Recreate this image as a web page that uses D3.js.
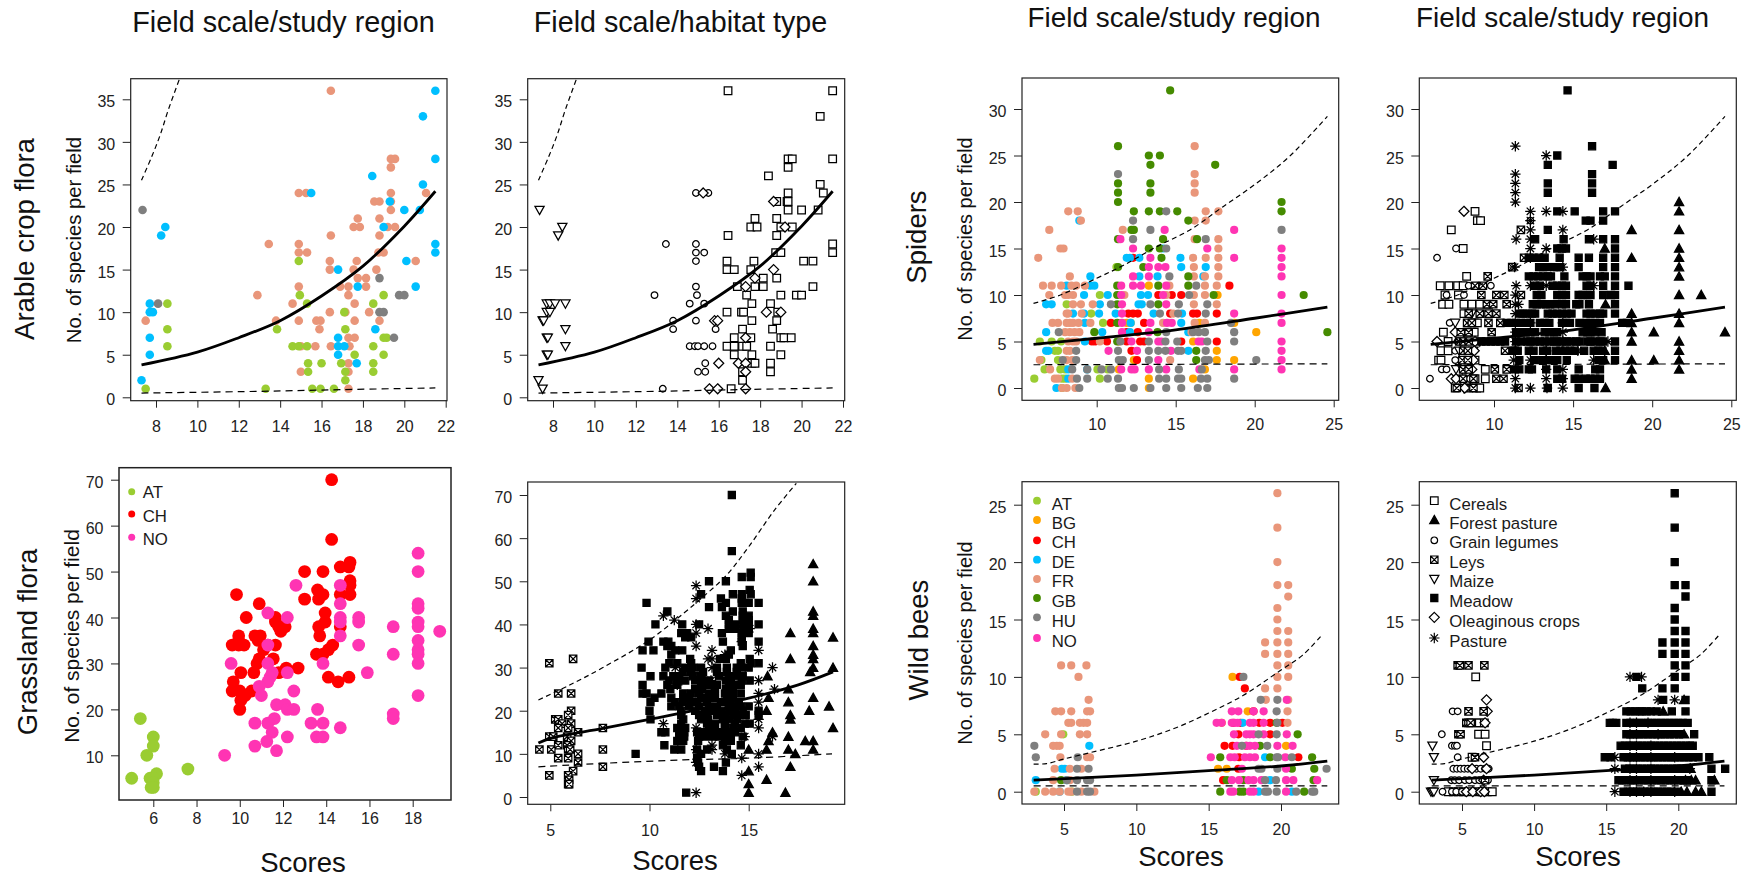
<!DOCTYPE html>
<html><head><meta charset="utf-8">
<style>html,body{margin:0;padding:0;background:#fff}svg{display:block}text{font-family:"Liberation Sans",Arial,sans-serif;fill:#1a1a1a}</style>
<script src="https://cdnjs.cloudflare.com/ajax/libs/d3/7.8.5/d3.min.js"></script></head>
<body><svg id="c" width="1749" height="877"></svg>
<script>
// All point lists are rows: [species count, score, score, ...]
const countryColors={AT:"#9ACD32",BG:"#FFA500",CH:"#FF0000",DE:"#00BFFF",FR:"#E9967A",GB:"#458B00",HU:"#7F7F7F",NO:"#FF34B3"};
const habitatNames={C:"Cereals",F:"Forest pasture",G:"Grain legumes",L:"Leys",Z:"Maize",M:"Meadow",O:"Oleaginous crops",P:"Pasture"};

// Arable crop flora by country
const arableDE=[[36,21.5],[33,20.9],[28,21.5],[26,18.45],[25,20.9],[24,15.5],[23,19.3],[22,20,20.75],[20,19,8.45],[19,8.25],[18,21.5],[17,21.5],[16,20.1],[15,16.8],[13,17.75,20.55],[11,7.7],[10,7.7,7.85],[8,18.6],[7,16.8,7.7],[6,16.8,17.1],[5,16.8,7.7],[4,17.7],[2,7.3]];
const arableFR=[[36,16.45],[28,19.35,19.55],[27,19.35],[24,14.9,15.25,19.35,21.05],[23,18.55,18.8,19.35],[22,19.35],[21,17.75,18.8],[20,17.55,17.85,19.2,19.55],[19,16.45,18.8],[18,13.45,14.9],[17,14.9,15.3,18.75,19],[16,16.4,17.7,20.55],[15,16.4,17.55,18.65],[14,17.75,18.15],[13,14.9,16.9,17.3,18.15],[12,12.9,17.3],[11,14.6,17.6],[10,16.4,17.15,18.3],[9,7.5,13.8,14.9,15.75,15.95,17.6,18.8],[8,15.9],[7,17.3,17.6],[6,15,15.7,16.45,17.35],[4,17.3],[3,15,17.3],[1,17.3]];
const arableAT=[[16,14.9],[12,14.95,19],[11,8.55,15.3,18.5],[10,17.1],[8,8.55,13.85,17.15],[7,19,19.15],[6,8.55,14.6,14.9,15.3,18.5],[5,17.6,19],[4,15.35,16,16.95,18.5],[3,15.35,17.15,18.5],[2,17.15],[1,7.5,13.3,15.55,15.95,16.6]];
const arableHU=[[22,7.35],[14,18.8],[12,19.75,20],[11,8.1],[10,18.8,19],[7,19.5]];
// Arable crop flora by habitat
const arableCereals=[[36,16.45,21.5],[33,20.9],[28,19.35,19.55,21.5],[27,19.35],[26,18.4],[25,20.9],[24,19.35,21.05],[23,18.8,19.3,19.35],[22,19.35,20,20.8],[21,17.75,18.8],[20,17.55,17.85,19,19.55],[19,16.45,18.8],[18,21.5],[17,18.75,19,21.5],[16,16.4,17.7,20.1,20.55],[15,16.4,16.75,17.55],[14,18.15,18.8],[13,16.9,17.75,18.15,20.55],[12,17.35,19,19.75,20],[11,17.6,18.5],[10,16.4,17.1,17.2,18.85],[9,17.6,18.8],[8,17.15,18.6],[7,16.75,17.55,19,19.15,19.5],[6,16.4,16.75,17.15,17.35,18.5],[5,16.75,17.6,19],[4,17.6,17.75,18.5],[3,17.15,18.5],[2,17.15],[1,16.6]];
const arableLegumes=[[24,14.9,15.5],[18,13.45,14.9],[17,14.9,15.3],[16,14.9],[13,14.9],[12,12.9,14.95],[11,14.6,15.3],[10,19],[9,13.8,14.9],[8,13.8,15.85],[6,14.6,14.85,15,15.3,15.7],[4,15.35],[3,15,15.35],[1,13.3]];
const arableMaize=[[22,7.35],[20,8.45],[19,8.25],[11,7.7,7.85,8.1,8.6],[10,7.7,7.85],[9,7.5,7.55],[8,8.6],[7,7.7,7.75],[6,8.6],[5,7.7,7.75],[2,7.3],[1,7.5]];
const arableOleaginous=[[24,15.25],[23,18.65],[20,19.2],[15,18.65],[14,17.75],[13,17.3],[10,18.3,19],[9,15.8,15.95],[7,17.3],[4,16,16.95,17.3],[3,17.3],[1,15.55,15.95,17.3]];
const arableMean=[[7.3,3.8],[10,5.3],[12,7],[14,9],[16,11.9],[18,15.4],[20,20.1],[21.5,24.2]];
const arableUpper=[[7.3,25.5],[7.8,28.3],[8.2,30.8],[8.6,33.8],[9.15,37.5]];
const arableLower=[[7.3,0.5],[13,0.7],[17,0.9],[21.5,1.1]];

// Grassland flora by country
const grassAT=[[18,5.4],[14,6],[12,6],[10,5.7],[7,7.6],[6,6.15],[5,5,5.85,6],[4,6],[3,5.9,6]];
const grassCH=[[70,14.25],[57,14.25],[52,15.1],[51,14.65,15.05],[50,13,13.85],[48,15.1],[47,15.1],[46,13.6],[45,9.85,13.85,14.65,15.1],[44,13,13.65],[43,10.9],[41,13.95],[40,10.3,11.65],[39,11.65,13.95],[38,11.8,12.1,13.65,14.65],[37,11.9],[36,9.95,10.7,10.95,13.7],[35,9.95,10.85],[34,9.65,9.95,10.2,11.3,11.65,14.3],[33,11.1,14.1],[32,13.55,13.85],[31,10.9,11.55],[30,10.8],[29,12.15,12.7],[28,10.05,10.65,11.8],[27,14.1,15.05],[26,9.7,14.55],[24,9.65,10,10.55],[23,10.25],[22,10.05],[20,10]];
const grassNO=[[54,18.25],[50,18.25],[47,12.6,14.65],[43,14.65,18.25],[42,18.25],[41,11.3],[40,12.2,14.65,15.5],[39,14.65,15.5,18.25],[38,17.1,18.25],[37,19.25],[36,14.65],[35,18.25],[34,11.3,15.5],[33,18.25],[32,17.1,18.25],[30,9.6,11.3,13.85,18.25],[28,11.5,12.2,15.9],[27,11.4],[26,11.3],[25,10.9],[24,12.5],[23,11,18.25],[21,11.7,12.1],[20,12.2,12.5,13.6],[19,17.1],[18,11.6,17.1],[17,10.7,11.3,13.3,13.85],[16,14.65],[15,11.5],[14,12.2,13.55,13.85],[13,11.25],[12,10.7],[11,11.7],[10,9.3]];
// Grassland flora by habitat
const grassLeys=[[32,6.15],[31,4.95],[24,5.4,6.05],[20,6.05],[19,5.9],[18,5.25,5.4],[17,5.6,6.05],[16,5.4,5.9,7.65],[15,6.4],[14,4.95,5.15,5.85],[13,6.05],[12,5.4,5.85],[11,4.45,5.05,5.9,6,7.65],[10,6.4],[9,5.4,5.9],[8,6.4],[7,7.65],[6,6.15],[5,4.95,5.9],[4,5.95],[3,5.9,5.95]];
const grassMeadow=[[70,14.15],[57,14.15],[52,15.1],[51,14.65,15.1],[50,13,13.85],[48,15.05],[47,12.6,14.2,14.65,15.1],[46,13.6,14.65],[45,9.85,13.85,14.65,14.8,15,15.5],[44,13,13.65],[43,10.9,14.2,14.7],[42,13.85,14.7,15],[41,14,14.7,15],[40,10.3,11.65,12.5,14,14.3,14.7,15,15.5],[39,14,14.3,14.7,15],[38,11.6,11.9,13.65,14.65,15],[37,11.8,12.1,14.65],[36,9.95,10.7,10.95,13.7,14.65,15.5],[35,10.9,11.1,14.7],[34,9.65,10.2,11.3,11.65,14.1],[33,11.1,14],[32,12.05,13.55,13.85,15.05],[31,11,11.4,12.1,14.6,15.1,15.5],[30,9.6,10.8,11.8,12.2,12.6,13.4,13.9,14.4,14.65,15],[29,11.7,12.1,12.7,13.4,13.9,14.4],[28,10.05,10.7,11.2,11.5,12.2,12.6,13.5,14,14.4,14.7],[27,11,11.4,11.8,12.3,12.65,13,13.85,14.1,14.65,15.05],[26,9.65,10.9,11.4,12.6,13,13.4,14,14.3,14.6],[25,11.05,12.3,12.65,13.3,13.85,14.2],[24,9.65,9.85,10.6,11.7,12.1,12.5,13,13.3,13.8,14.2,14.6],[23,10.25,11.1,11.7,12,12.6,12.9,13.3,13.9,14.2],[22,10.05,11.3,11.7,12.1,12.4,12.9,13.6,14,14.5],[21,11.1,11.5,12,12.5,13,13.4,14,14.3,14.6,15],[20,10,11.6,12.3,12.8,13.2,13.6,14,14.3,14.7,15.5],[19,11.6,12.5,12.9,13.4,13.8,14.2,14.55,14.85,15.5],[18,10.05,11.7,12.6,12.95,13.7,14,14.4],[17,11.6,12.9,13.3,13.8,14.3,14.8,15.05],[16,11.4,11.8,13,13.3,13.8,14.2,14.6],[15,10.6,10.8,11.5,11.75,12.4,12.7,13,13.4,13.7,14,14.3],[14,11.5,11.75,12.5,12.8,13.2,13.5,13.8,14.1,14.7],[13,11.4,11.7,12.45,13.8,14.1],[12,10.75,13.7,14.6],[11,11.25,11.6,12.4,12.9,13.9],[10,9.3,12.6,14.15],[9,12.4],[8,12.45,13.85],[7,12.5,13.25],[6,12.6,13.7],[1,11.85]];
const grassPasture=[[49,12.35],[46,12.35],[42,10.7],[41,11.25],[40,12.35],[39,12.95,15.05],[38,12.35],[36,14.65],[35,12.35],[34,13.15,15.5],[33,13.8],[32,12.95,13.15],[30,11.3,13.15,16.2],[27,13.1,15.5],[26,11.4],[25,16.3],[24,15.5],[22,15.5],[18,15.5],[17,10.7],[16,12.35,15.5],[14,14.8,16.2],[12,13.15],[11,12.35,13.15],[10,13.8,15.5],[9,14.65],[8,12.35],[7,15.5],[5,14.65],[1,12.35]];
const grassForest=[[54,18.25],[50,18.25],[43,18.25],[42,18.25],[39,18.25],[38,17.1,18.25],[37,19.25],[35,18.25],[33,18.25],[32,17.1,18.25],[30,18.25,19.25],[29,18.1],[28,15.95],[25,17],[23,16,18.25],[22,17],[21,19.05],[20,15.9,18.05],[19,17.1],[18,17.1],[16,19.25],[15,16.2],[14,17],[13,16,17.85,18.25],[11,15,15.9,17,18.25],[10,17.35],[7,17.1],[6,15],[4,15.9],[3,15],[1,15,16.85]];
const grassMean=[[4.4,12.5],[5,13.6],[7.65,15.9],[10,18],[12.5,20.3],[15,22.9],[17.5,26],[19.25,29]];
const grassUpper=[[4.4,22.5],[6,26],[7.65,30],[10,36.4],[11.7,42.5],[12.7,46.4],[13.9,51.5],[15,58],[16.3,66.5],[17.4,72.7]];
const grassLower=[[4.4,7],[7.65,7.8],[11.7,8.6],[15,9],[19.2,10]];

// Spiders by country
const spidersAT=[[13,11.25],[10,10.2],[9,8.1],[8,9.65],[7,10.4],[5,6.4,7.15,7.75],[4,7.35,7.55],[3,6.5,7.55],[2,6.7,7.7,8,10.05,10.7],[1,6.05,7.8,8,10.2],[0,7.8]];
const spidersBG=[[11,13.3],[10,17.65],[7,11.9,12.15,16.5,18.7],[6,20.1],[5,11.4,16.1],[4,17.6],[3,12.35,17.6,18.7],[2,11.4,16.85],[1,13.3,16.1],[0,13.3]];
const spidersCH=[[14,12.3],[11,18.4],[10,13.9,14.75,15.35],[8,12,12.3,12.6,14.65,16.1,16.35,17.6],[7,10.9,13],[6,11.9,12.6],[5,9.7,9.9,10.65,11.9,12.75,13,15.35,17.6],[4,12.2],[3,12.55]];
const spidersDE=[[18,8.9],[15,14.2],[14,11.9,12.1,12.7,15.3],[13,15.35,16.9],[12,9.6,12.7,13.85,16.75],[11,8.1,9.6,9.85],[10,9.2,10.7,12.8,13.25],[9,6.8,7.15,10.2,12.65,12.85],[8,8.5,9.2,10.15,11.2,13.6,15.4],[7,9.25,12.15,15.35],[6,6.8,10.35,12.1,15.8],[5,9.25],[4,6.8,6.95,15.8],[2,8.2,9.4],[1,8.2],[0,7.45]];
const spidersFR=[[26,16.2],[23,16.2],[22,16.2],[21,16.2],[19,8.2,8.8,16.9,17.7],[18,9,16.2,16.9],[17,7,11.65],[16,16.2,17.7],[15,7.7,7.9,17.7],[14,6.3,16.1,16.9,17.7],[13,16.15,17.7],[12,8.3,16.15,16.85,17.7],[11,6.6,7.15,7.75,8.4,8.7,9.25,14.6,16.85,17.6],[10,7,8,8.2,8.5,11.75,14.4,16.15,16.85],[9,8.5,9,9.75,16.15,17.6],[8,8.1,8.2,9.05,14.85],[7,7.2,7.55,8.1,8.3,8.5,8.85,9.6,14.2,16.2,16.85],[6,8,8.3,8.6,8.9,16],[5,8.2,8.5,8.7,10.2],[4,8.1,8.3],[3,6.4,8.1,8.45,14.65],[2,7.05],[1,7.35,7.55,8.45],[0,7.8,8.1,8.65]];
const spidersGB=[[32,14.65],[26,11.35],[25,13.3,14],[24,13.4,17.5],[22,11.35,13.4],[21,11.35,13.4],[20,11.35,21.7],[19,12.35,13.3,14,15.1,21.7],[18,15.8],[17,12.2,12.35],[16,11.35,14.2,16.35],[15,13.3,14],[14,14.1],[13,11.35,12.95],[12,15.8],[11,11.3,13.9,15.8],[10,11.3,17.4,23.1],[9,11.3,13.9],[7,11.3],[6,9.85,13.85,24.6],[5,11.3],[4,16.3],[3,16.3]];
const spidersHU=[[23,11.35],[19,14.4],[18,12.3],[17,13.4,21.7],[16,12.3,16.9],[15,14.4],[12,14.6],[11,16.3],[10,15.85],[9,10.9,13.4,15.2,17],[8,14,15.15,16.9],[7,18.5],[6,7.6,14.4,16.1,16.45,16.85,18.7],[5,11.5,13.3,14.35,15.1,17,18.7],[4,8.7,11.35,13.3,13.9,14.35,15.15,15.35,16.9],[3,7.85,8.7,11.4,11.65,13.3,16.85,17.1,20.1],[2,8.45,9.4,10.3,10.9,13.95,15.2,16.65],[1,8.75,9.4,10.7,11.35,13.95,14.4,15.15,15.35,16.6,17,18.7],[0,8.9,11.4,11.6,12.35,13.4,14.4,15.35,16.4,17]];
const spidersNO=[[17,14.3,18.7],[16,11.5],[15,12.3,17,21.7],[14,13.4,18.7,21.7],[13,13.3,13.9,14.35,21.7],[12,12.3,13.3,21.7],[11,11.55,12.3,12.8,14.4],[10,11.55,14.2,21.7],[9,11.6,14.4],[8,11.6,18.7,21.7],[7,11.6,13.4,14.45,14.75,21.7],[6,11.6,13.3],[5,12.2,13.9,14.1,16.45,16.65,21.7],[4,10.75,12.55,14.7,21.7],[3,13.9,21.7],[2,11.55,12.2,12.4,13.3,14.4,16.5,18.7,21.7]];
// Spiders by habitat
const spidersCereals=[[19,8.8],[18,8.95,9.15],[17,7.3],[15,8.05],[12,8.27],[11,6.6,7.15,7.7,8.05],[10,6.9,7.75],[9,6.75,7.15,8.1,8.6,9.1,9.65],[8,8.1],[7,8.75,8.95],[6,6.8,8.3,8.75],[5,7.1],[4,6.65,7.1],[3,6.5,6.65,8.8],[2,9.45],[1,8.8,9.45],[0,7.55,8.4,8.9,9.1]];
const spidersLegumes=[[18,12.3],[15,7.6],[14,6.4],[11,8.4,9.8],[10,7,8.1],[7,7.2],[6,7.9],[5,7.7,8.2],[4,7.55,8,8.4],[3,7.55,8,8.3],[2,6.7,7,8.1],[1,5.95,8.2],[0,8.3]];
const spidersMaize=[[8,8.6],[7,7.55],[6,8.1],[5,7.9,9.1],[4,7.8,8.7],[2,7.6,8],[1,7.9],[0,8.1]];
const spidersOleaginous=[[19,8.1],[6,7.55],[5,6.4,8.8],[4,8.75],[3,8.7],[2,8.6],[1,7.3,7.6,8.5],[0,8.15]];
const spidersLeys=[[17,11.7],[14,11.9],[13,11.15],[12,9.6],[11,8.8,9.3],[10,9.2,10.15,10.65,11.7],[9,9.55,9.95,10.8],[8,8.4,9.1,9.65,10.15],[7,8.3,8.6,9.65,10.4],[6,7.9,8.4,9.85],[5,7.8,8.05,8.4],[4,8.05,8.35,10.7,11.3],[3,8,8.35],[2,8.05,8.4,10.05,10.8],[1,8.05,8.7,10.15,10.6],[0,7.65,8.7,11.55]];
const spidersMeadow=[[32,14.65],[26,16.2],[25,14],[24,13.4,17.5],[23,16.2],[22,13.4,16.2],[21,13.4,16.2],[19,14,15.1,16.9,17.65],[18,15.8,16.1,16.9],[17,13.4],[16,12.6,14.4,16,16.9,17.65],[15,14,14.3,14.55,17.65],[14,12.2,12.5,12.85,13.2,14.15,15.35,16,16.9,17.65],[13,12.85,13.1,13.35,13.8,14,14.2,15.35,16.9,17.65],[12,12.2,12.5,12.8,13.1,13.4,13.6,14.45,15.6,15.85,16.1,16.7,17,17.65],[11,12.6,12.9,13.7,14,14.3,14.55,15.85,16.1,16.9,17.65,18.5],[10,12.7,13,14,14.3,14.55,15.35,15.6,15.9,16.1,16.9,17.4,17.65],[9,12.45,12.7,13,13.3,13.55,13.85,14.3,14.55,15.2,15.4,16,17.65],[8,11.6,11.85,12.1,12.4,12.6,13.4,13.7,14,14.3,14.6,14.9,15.85,16.1,16.4,16.7,16.9,17.65],[7,10.8,11.1,11.4,11.7,12,12.3,12.9,13.2,13.5,14.3,14.55,14.8,15.4,15.85,16.1,16.4,16.7,18.1,18.4],[6,11.4,11.7,12,12.3,12.6,13.2,13.5,13.8,14,15.6,15.9,16.1,16.4,16.8],[5,9.2,9.5,9.8,10.1,10.4,10.7,11.4,11.7,12.1,12.3,12.6,12.9,13.2,13.5,13.8,14,14.3,14.6,14.85,15.2,15.4,15.9,16.1,16.4,16.7,16.9,17.65],[4,11.2,11.5,12.2,12.5,13.1,13.35,13.9,14.2,14.5,14.8,15.1,15.7,16.3,16.6,16.85,17.65],[3,11.6,12.6,13.1,13.4,13.7,14,14.6,16.6,16.9,17.65],[2,11.3,11.6,12.2,12.4,13.3,14,15.35,16.4,16.7],[1,14,14.3,15.1,15.35,15.8,16.1,16.4,16.7],[0,13.4,15.35,16.35]];
const spidersForest=[[20,21.7],[19,21.7],[17,18.7,21.7],[15,17,21.7],[14,18.7,21.7],[13,21.7],[12,21.7],[10,21.7,23.1],[9,17.05],[8,18.7,21.7],[7,18.7,21.7],[6,18.7,20.1,24.6],[5,18.7,21.7],[4,17,21.7],[3,17,18.7,20.1,21.7],[2,18.7,21.7],[1,18.7],[0,17.05]];
const spidersPasture=[[26,11.35],[25,13.3],[23,11.35],[22,11.35],[21,11.35],[20,11.35],[19,12.3,13.3,14.35],[18,12.3],[17,12.3,14.35],[16,11.4,12.3,16.3],[15,12.3,13.3],[14,12.3],[13,11.3,14.35],[11,11.4,12.3,13.3,16.3],[10,11.35],[9,11.35,11.55],[8,11.35],[7,12.3,14.35],[6,11.35,14.35],[5,11.35,14.35,17.2],[4,11.35,13.3,15.3],[3,11.25,12.3,13.3,16.3],[2,11.35,13.3,14.35],[1,11.35,13.3,14.35],[0,11.35,12.3,13.35,14.35]];
const spidersMean=[[6,4.7],[10,5.35],[15,6.25],[20,7.5],[24.6,8.7]];
const spidersUpper=[[6,9.1],[7.7,10],[10,11.8],[11.7,13.2],[13.8,15.2],[15.9,17],[18,19.5],[20.1,22],[22.2,24.9],[24.6,29.2]];
const spidersLower=[[6,2.5],[15,2.55],[24.6,2.6]];

// Wild bees by country
const beesAT=[[5,4.95],[0,3.05,5.55]];
const beesBG=[[10,16.65],[7,17.7],[6,15.9],[4,20.35],[2,15.65,16.25]];
const beesCH=[[10,17.15],[9,17.5],[7,18.1],[6,16.7,17.2,18.5,19.25,20.1],[5,17.05,19.25],[4,16.1,16.65,17.6],[3,17.1,21.2],[2,17.05],[1,16]];
const beesDE=[[6,17.35],[4,6.75],[3,18.9],[2,4.85,5.05],[1,3.05,5.2,19.25],[0,4.7,18.45,20.75]];
const beesFR=[[26,19.75],[23,19.75],[20,19.75],[18,19.75,20.5],[17,20.5],[16,19.75],[15,19.75],[14,19.75,20.5],[13,18.9,19.75,20.5],[12,18.9,19.75,20.5],[11,4.8,5.5,6.55,19.75,20.5],[10,6,19.75,20.5],[9,18.9,19.75],[8,6.7,18.95,20.5],[7,4.4,4.8,5.5,6.6,6.8,20.45],[6,5.3,5.5,6.1,6.35,6.6,20.45],[5,3.7,4.8,6.1,6.6],[4,4.25,4.5,4.7],[3,4.75,6.6,6.8],[2,4.35,5.4,6.2],[1,4.25,5.4],[0,2.95,3.7,4.25,4.7,5.3,5.5,6.2,7.1]];
const beesGB=[[6,19.7],[5,21.15],[4,18.55],[3,15.8,19.25,22.15],[2,20.75,22.3],[1,4.8,16.25,17.4,22.25],[0,15.8,17.15,17.4,21.6]];
const beesNO=[[8,20.4],[7,16.6,17.05,18.1,18.8],[6,15.55,15.9,16.6,16.8,17,17.85,18.1,18.8],[5,16.75,17.6,17.85,18.1,18.8,20.4],[4,16.95,17.6,17.85,18.2,19.75,20.8],[3,15.15,16.5,16.8,17.5,17.85,18.2,20.3],[2,17.3,20.35],[1,16.6,17.1,17.75,18.1,18.65,20.35,20.85,22.5],[0,16.5,16.7,17.85,18.1,20.35]];
const beesHU=[[10,17.4],[8,18.6,19.75],[7,19.7],[6,19.75],[5,18.45,19.7],[4,2.95,17.3,19.05],[3,3.05,5.95,19.7,19.8,20.75],[2,5.9,6.7,18.45,18.65,19.75,23.15],[1,5.2,5.9,6.6,6.8,18.9,19.65],[0,5.9,6.6,6.8,18.9,19.1,19.7,21.05,22.15,22.3]];
// Wild bees by habitat
const beesCereals=[[10,5.95],[6,5.95,6.2,6.55],[5,6.15,6.6],[4,6.7],[3,5.7],[0,4.05,4.4,4.75,5.1,5.45,6,6.4,6.75,7.1]];
const beesLegumes=[[7,4.35,4.7],[5,3.6],[4,4.3,4.5,4.65],[3,4.7,6.5],[2,4.4,4.65,4.9,5.15,5.4,5.65,6,6.3,6.6,6.85],[1,4.25,4.5,4.8,5.2,5.5,5.9,6.2,6.5,6.8],[0,3.65,4.3,4.6,5,5.3,5.9,6.3,6.6]];
const beesLeys=[[11,4.7,4.85,5.45,6.55],[7,5.45,6.5],[6,5.3,5.45,5.6],[5,4.75,4.9],[3,5.9],[1,6.6]];
const beesMaize=[[4,2.95],[3,3.05],[1,3.05],[0,2.85,2.95,3.05]];
const beesOleaginous=[[8,6.7],[7,6.75],[6,6.6],[3,6.5],[2,5.7,6.7],[1,6.5],[0,5.3,5.75,6.3,6.55]];
const beesMeadow=[[26,19.75],[23,19.75],[20,19.75],[18,19.75,20.5],[17,20.5],[16,19.75],[15,19.75],[14,19.75,20.5],[13,18.9,19.75,20.5],[12,18.9,19.75,20.5],[11,19.75,20.5],[10,17.1,19.75,20.5],[9,17.5,18.9,19.75],[8,18.95,20.5],[7,16.4,16.7,17,17.3,17.5,17.8,18.1,18.5,19.55,20.5],[6,15.25,15.45,15.7,16.4,16.7,17,17.3,17.6,17.9,18.2,18.5,18.8,19.1,19.4,19.7,20,20.3,20.65],[5,16.4,16.7,17,17.3,17.6,17.9,18.2,18.5,18.8,19.1,19.4,19.7,20.05,21.1],[4,16,16.3,16.6,16.9,17.2,17.5,17.8,18.1,18.4,18.7,19,19.3,19.6,19.9,20.2,20.5,20.8,21],[3,14.9,15.3,16.2,16.5,16.8,17.1,17.4,17.7,18,18.3,18.6,18.9,19.2,19.5,19.8,20.1,20.4,20.7,21,21.4,22.15],[2,16.3,16.6,16.9,17.2,17.5,17.8,18.1,18.4,18.7,19,19.3,19.6,19.9,20.2,20.6,22.3,23.25],[1,15.85,16.1,16.4,16.7,17,17.3,17.6,17.9,18.2,18.5,18.8,19.1,19.4,19.7,20,20.3,20.6,22.3],[0,16.2,16.5,16.8,17.1,17.4,17.7,18,18.3,18.6,18.9,19.2,19.5,19.9,22.3]];
const beesForest=[[8,20.4],[7,18.95],[5,20.4],[2,20.85],[1,20.5,20.9,21.2,22.5],[0,20.2,20.6,21.2,21.6]];
const beesPasture=[[10,16.65,17.45],[8,18.6,19.75],[6,16.65,17.1,17.9],[5,16.65,17.1,18.6],[4,16.65,17.1,18.1],[3,15.6,16.65,17.1,18.1,19.75],[2,15.6,16.65,17.1,18.1,20.8],[1,16.65,17.1,18.1,19.75],[0,15.6,16.65,17.1,17.6,18.1,19.75]];
const beesMean=[[2.9,1],[10,1.45],[15,1.83],[20,2.24],[23.2,2.67]];
const beesUpper=[[2.9,2.4],[3.8,2.45],[5,2.85],[6.8,3.4],[10,4.4],[12.7,5.55],[15,6.85],[17.4,8.4],[20,10.6],[21.5,11.9],[22.9,13.75]];
const beesLower=[[2.9,0.5],[23.2,0.5]];

// Legends and axes
const grassLegend=["AT","CH","NO"];
const beesLegend=["AT","BG","CH","DE","FR","GB","HU","NO"];
const habitatLegend=["C","F","G","L","Z","M","O","P"];
const ticks14=[8,10,12,14,16,18,20,22], ticksGrassX=[6,8,10,12,14,16,18], ticks5=[5,10,15], ticksSp=[10,15,20,25], ticksBee=[5,10,15,20];
const yArable=[0,5,10,15,20,25,30,35], yGrassL=[10,20,30,40,50,60,70], yGrassR=[0,10,20,30,40,50,60,70], ySp=[0,5,10,15,20,25,30], yBee=[0,5,10,15,20,25];

const svg=d3.select("#c");
const defs=svg.append("defs");
let clipId=0;

// marker shapes as d3 custom symbol types
const sq=h=>({draw(c){c.rect(-h,-h,2*h,2*h)}});
const shapes={
 C:{type:sq(3.8),fill:"#fff"},
 M:{type:sq(3.55),fill:"#000"},
 L:{type:{draw(c){const h=3.7;c.rect(-h,-h,2*h,2*h);c.moveTo(-h,-h);c.lineTo(h,h);c.moveTo(h,-h);c.lineTo(-h,h)}},fill:"#fff"},
 F:{type:{draw(c){const h=4.6;c.moveTo(0,-h);c.lineTo(h,h*0.8);c.lineTo(-h,h*0.8);c.closePath()}},fill:"#000"},
 Z:{type:{draw(c){const h=4.6;c.moveTo(0,h);c.lineTo(h,-h*0.8);c.lineTo(-h,-h*0.8);c.closePath()}},fill:"#fff"},
 G:{type:{draw(c){c.moveTo(3.3,0);c.arc(0,0,3.3,0,2*Math.PI)}},fill:"#fff"},
 O:{type:{draw(c){const h=5;c.moveTo(0,-h);c.lineTo(h,0);c.lineTo(0,h);c.lineTo(-h,0);c.closePath()}},fill:"#fff"},
 P:{type:{draw(c){const h=5.2,d=3.7;c.moveTo(-h,0);c.lineTo(h,0);c.moveTo(0,-h);c.lineTo(0,h);c.moveTo(-d,-d);c.lineTo(d,d);c.moveTo(d,-d);c.lineTo(-d,d)}},fill:"none"}
};
const symbolPath=k=>d3.symbol().type(shapes[k].type)();

const unroll=rows=>rows.flatMap(r=>r.slice(1).map(x=>({x,y:r[0]})));

function panel(o){
 const x=d3.scaleLinear().domain(o.xd).range(o.xr), y=d3.scaleLinear().domain(o.yd).range(o.yr);
 const [L,T,R,B]=o.box;
 const g=svg.append("g");
 const id="clip"+(clipId++);
 defs.append("clipPath").attr("id",id).append("rect").attr("x",L).attr("y",T).attr("width",R-L).attr("height",B-T);
 const plot=g.append("g");
 (o.groups||[]).forEach(s=>{
  const pts=unroll(s.rows);
  if(s.color){
   plot.append("g").attr("fill",s.color).selectAll("circle").data(pts).join("circle")
    .attr("cx",d=>x(d.x)).attr("cy",d=>y(d.y)).attr("r",o.r);
  } else {
   const sh=shapes[s.shape];
   plot.append("g").attr("fill",sh.fill).attr("stroke","#000").attr("stroke-width",1.25)
    .selectAll("path").data(pts).join("path").attr("d",symbolPath(s.shape))
    .attr("transform",d=>`translate(${x(d.x)},${y(d.y)})`);
  }
 });
 const line=d3.line().x(d=>x(d[0])).y(d=>y(d[1])).curve(d3.curveCatmullRom.alpha(0.5));
 const lg=g.append("g").attr("clip-path",`url(#${id})`).attr("fill","none").attr("stroke","#000");
 if(o.upper){
  lg.append("path").attr("d",line(o.upper)).attr("stroke-width",1.2).attr("stroke-dasharray","5,3.5");
  lg.append("path").attr("d",line(o.lower)).attr("stroke-width",1.2).attr("stroke-dasharray","7,5");
  lg.append("path").attr("d",line(o.mean)).attr("stroke-width",2.8);
 }
 g.append("rect").attr("x",L).attr("y",T).attr("width",R-L).attr("height",B-T).attr("fill","none").attr("stroke","#222").attr("stroke-width",o.frame||1.2);
 const ax=g.append("g").attr("transform",`translate(0,${B})`).call(d3.axisBottom(x).tickValues(o.xt).tickSize(7).tickFormat(d3.format("d")));
 ax.select(".domain").remove();
 ax.selectAll("text").attr("y",o.xl).attr("dy",0).style("font-size","16px").style("fill","#222");
 ax.selectAll("line").attr("stroke","#222").attr("stroke-width",1);
 const ay=g.append("g").attr("transform",`translate(${L},0)`).call(d3.axisLeft(y).tickValues(o.yt).tickSize(8).tickFormat(d3.format("d")));
 ay.select(".domain").remove();
 ay.selectAll("text").attr("x",-15.5).attr("dy","0.47em").style("font-size","16px").style("fill","#222");
 ay.selectAll("line").attr("stroke","#222").attr("stroke-width",1);
 if(o.legend){
  const lsel=g.append("g");
  o.legend.forEach((k,i)=>{
   if(countryColors[k]) lsel.append("circle").attr("cx",o.lx).attr("cy",o.ly[i]).attr("r",o.lr||3.9).attr("fill",countryColors[k]);
   else{const sh=shapes[k];lsel.append("path").attr("d",symbolPath(k)).attr("transform",`translate(${o.lx},${o.ly[i]})`).attr("fill",sh.fill).attr("stroke","#000").attr("stroke-width",1.2)}
   lsel.append("text").attr("x",o.ltx).attr("y",o.lb[i]).style("font-size","16.8px").text(habitatNames[k]||k);
  });
 }
}
function txt(x,y,s,size,rot){
 const t=svg.append("text").attr("text-anchor","middle").style("font-size",size+"px").style("fill","#111").text(s);
 if(rot) t.attr("transform",`translate(${x},${y}) rotate(-90)`); else t.attr("x",x).attr("y",y);
}
const byCountry=(o)=>Object.entries(o).map(([k,rows])=>({color:countryColors[k],rows}));
const byHabitat=(o)=>Object.entries(o).map(([k,rows])=>({shape:k,rows}));

const xA=[8,22], yA=[0,35];
panel({box:[130.7,78.7,447,400.7],xd:xA,xr:[156,445.7],yd:yA,yr:[397.3,99.3],xt:ticks14,yt:yArable,xl:31,r:4.3,
 groups:byCountry({FR:arableFR,DE:arableDE,AT:arableAT,HU:arableHU}),mean:arableMean,upper:arableUpper,lower:arableLower});
panel({box:[527.7,78.7,844.7,400.7],xd:xA,xr:[553,843],yd:yA,yr:[397.3,99.3],xt:ticks14,yt:yArable,xl:31,
 groups:byHabitat({C:arableCereals,G:arableLegumes,Z:arableMaize,O:arableOleaginous}),mean:arableMean,upper:arableUpper,lower:arableLower});
panel({box:[119,467.7,451,800],xd:[6,18],xr:[153.3,412.7],yd:[10,70],yr:[755.3,479.7],xt:ticksGrassX,yt:yGrassL,xl:24,r:6.4,frame:1.5,
 groups:byCountry({AT:grassAT,CH:grassCH,NO:grassNO}),legend:grassLegend,lx:131.7,ly:[491.7,514,537.3],ltx:142.7,lb:[498.3,521.7,545],lr:3.5});
panel({box:[527.7,482,844.7,804.3],xd:[5,15],xr:[550.3,748.7],yd:[0,70],yr:[797,495],xt:ticks5,yt:yGrassR,xl:31.7,
 groups:byHabitat({L:grassLeys,M:grassMeadow,F:grassForest,P:grassPasture}),mean:grassMean,upper:grassUpper,lower:grassLower});
panel({box:[1022,78,1338.7,400.3],xd:[10,25],xr:[1096.7,1333.7],yd:[0,30],yr:[388,109],xt:ticksSp,yt:ySp,xl:30,r:4.1,
 groups:byCountry({AT:spidersAT,BG:spidersBG,CH:spidersCH,DE:spidersDE,FR:spidersFR,GB:spidersGB,NO:spidersNO,HU:spidersHU}),mean:spidersMean,upper:spidersUpper,lower:spidersLower});
panel({box:[1419.3,78,1736.3,400.3],xd:[10,25],xr:[1494,1731.3],yd:[0,30],yr:[388,109],xt:ticksSp,yt:ySp,xl:30,
 groups:byHabitat({C:spidersCereals,G:spidersLegumes,Z:spidersMaize,O:spidersOleaginous,L:spidersLeys,M:spidersMeadow,F:spidersForest,P:spidersPasture}),mean:spidersMean,upper:spidersUpper,lower:spidersLower});
const ly=[500.7,520,540.3,559.7,579,598,617.3,638], lb=[510,529.3,548.3,568.3,587.3,607.3,626.7,646.7];
panel({box:[1022,481.7,1338.7,804],xd:[5,20],xr:[1064,1281],yd:[0,25],yr:[791.7,504.7],xt:ticksBee,yt:yBee,xl:31,r:4.1,
 groups:byCountry({AT:beesAT,BG:beesBG,CH:beesCH,DE:beesDE,FR:beesFR,GB:beesGB,NO:beesNO,HU:beesHU}),mean:beesMean,upper:beesUpper,lower:beesLower,
 legend:beesLegend,lx:1037,ly,ltx:1051.7,lb});
panel({box:[1419.3,481.7,1736.3,804],xd:[5,20],xr:[1462,1678.3],yd:[0,25],yr:[791.7,504.7],xt:ticksBee,yt:yBee,xl:31,
 groups:byHabitat({C:beesCereals,G:beesLegumes,Z:beesMaize,O:beesOleaginous,L:beesLeys,M:beesMeadow,F:beesForest,P:beesPasture}),mean:beesMean,upper:beesUpper,lower:beesLower,
 legend:habitatLegend,lx:1434.3,ly,ltx:1449.3,lb});

txt(283.5,32,"Field scale/study region",28.8);
txt(680.5,32,"Field scale/habitat type",28.7);
txt(1174,27,"Field scale/study region",27.9);
txt(1562.5,27,"Field scale/study region",27.9);
txt(34,239,"Arable crop flora",27.5,true);
txt(37,642,"Grassland flora",27.5,true);
txt(926,237,"Spiders",27.5,true);
txt(928,640,"Wild bees",27.5,true);
txt(81,240,"No. of species per field",20.3,true);
txt(79,636,"No. of species per field",21,true);
txt(972,239,"No. of species per field",20,true);
txt(972,643,"No. of species per field",20,true);
txt(303,872,"Scores",27.5);
txt(675,870,"Scores",27.5);
txt(1181,866,"Scores",27.5);
txt(1578,866,"Scores",27.5);
</script></body></html>
